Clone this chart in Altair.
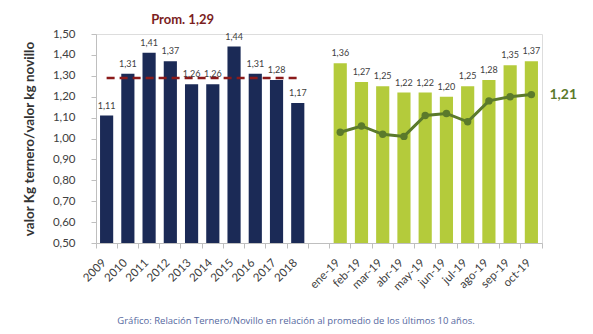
import altair as alt
import pandas as pd

years = ["2009", "2010", "2011", "2012", "2013", "2014", "2015", "2016", "2017", "2018"]
year_vals = [1.11, 1.31, 1.41, 1.37, 1.26, 1.26, 1.44, 1.31, 1.28, 1.17]
months = ["ene-19", "feb-19", "mar-19", "abr-19", "may-19", "jun-19",
          "jul-19", "ago-19", "sep-19", "oct-19"]
month_vals = [1.36, 1.27, 1.25, 1.22, 1.22, 1.20, 1.25, 1.28, 1.35, 1.37]
line_vals = [1.03, 1.06, 1.02, 1.01, 1.11, 1.12, 1.08, 1.18, 1.20, 1.21]
prom = 1.29
gap = " "
caption = "Gráfico: Relación Ternero/Novillo en relación al promedio de los últimos 10 años."
y_ticks = [0.5, 0.6, 0.7, 0.8, 0.9, 1.0, 1.1, 1.2, 1.3, 1.4, 1.5]

domain = years + [gap] + months

def fmt(v):
    return f"{v:.2f}".replace(".", ",")

bars = pd.DataFrame({
    "cat": years + months,
    "val": year_vals + month_vals,
    "grp": ["anual"] * len(years) + ["mensual"] * len(months),
})
bars["lbl"] = bars["val"].map(fmt)

line = pd.DataFrame({"cat": months, "val": line_vals})
last = line.iloc[[-1]].copy()
last["lbl"] = last["val"].map(fmt)

FONT = "Lato"
x_enc = alt.X("cat:N", scale=alt.Scale(domain=domain, paddingInner=0, paddingOuter=0),
              axis=alt.Axis(title=None, labelAngle=-45, bandPosition=1, tickExtra=True,
                            labelOffset=-2, labelFontSize=11.5, labelColor="#404040",
                            labelFont=FONT, domainColor="#BFBFBF", tickColor="#BFBFBF",
                            tickSize=5, labelPadding=13, labelOverlap=False,
                            labelAlign="right", labelBaseline="middle"))
y_scale = alt.Scale(domain=[0.5, 1.5], nice=False, zero=False)
y_enc = alt.Y("val:Q", scale=y_scale,
              axis=alt.Axis(title="valor Kg ternero/valor kg novillo", values=y_ticks,
                            tickCount=len(y_ticks),
                            labelExpr="replace(format(datum.value, '.2f'), '.', ',')",
                            labelFontSize=11.5, labelColor="#404040", labelFont=FONT,
                            labelOverlap=False,
                            titleFont=FONT, titleFontSize=13.5, titleFontWeight="bold",
                            titleColor="#333333", titlePadding=16, domainColor="#BFBFBF",
                            tickColor="#BFBFBF", tickSize=5, labelPadding=16, grid=False))

base = alt.Chart(bars)
bar_layer = base.mark_bar(width={"band": 0.62}).encode(
    x=x_enc, y=y_enc, y2=alt.datum(0.5),
    color=alt.Color("grp:N", scale=alt.Scale(domain=["anual", "mensual"],
                                             range=["#1B2A56", "#B4CB3B"]), legend=None),
)
bar_text = base.mark_text(baseline="bottom", dy=-5, fontSize=9, color="#404040", font=FONT).encode(
    x="cat:N", y="val:Q", text="lbl:N")

rule = alt.Chart(pd.DataFrame({"p": [prom]})).mark_rule(
    color="#8B1A1A", strokeWidth=2.5, strokeDash=[8, 5]).encode(
    x=alt.datum(years[0]), x2=alt.datum(years[-1]), y="p:Q")

prom_text = alt.Chart(pd.DataFrame({"t": ["Prom. " + fmt(prom)]})).mark_text(
    fontSize=13, fontWeight="bold", color="#7B1E1E", font=FONT, dx=-9, baseline="middle").encode(
    x=alt.datum("2013"), y=alt.value(-14), text="t:N")

ln = alt.Chart(line).mark_line(color="#5B7A2B", strokeWidth=3).encode(x="cat:N", y="val:Q")
pts = alt.Chart(line).mark_point(filled=True, color="#5B7A2B", size=55, opacity=1).encode(
    x="cat:N", y="val:Q")
end_text = alt.Chart(last).mark_text(align="left", dx=18, fontSize=14, fontWeight="bold",
                                     color="#5B7A2B", font=FONT).encode(
    x="cat:N", y="val:Q", text="lbl:N")

cap = alt.Chart(pd.DataFrame({"t": [caption]})).mark_text(
    fontSize=9.5, color="#5568A0", font="Open Sans", fontWeight=500).encode(
    x=alt.value(200), y=alt.value(287), text="t:N")

chart = alt.layer(bar_layer, bar_text, rule, prom_text, ln, pts, end_text, cap).properties(
    width=446, height=209,
    autosize=alt.AutoSizeParams(type="none"),
    padding={"left": 96, "top": 34, "right": 51, "bottom": 91},
).configure_view(stroke=None).configure(background="white")

chart.save("out.html", embed_options={"renderer": "svg", "actions": False})
